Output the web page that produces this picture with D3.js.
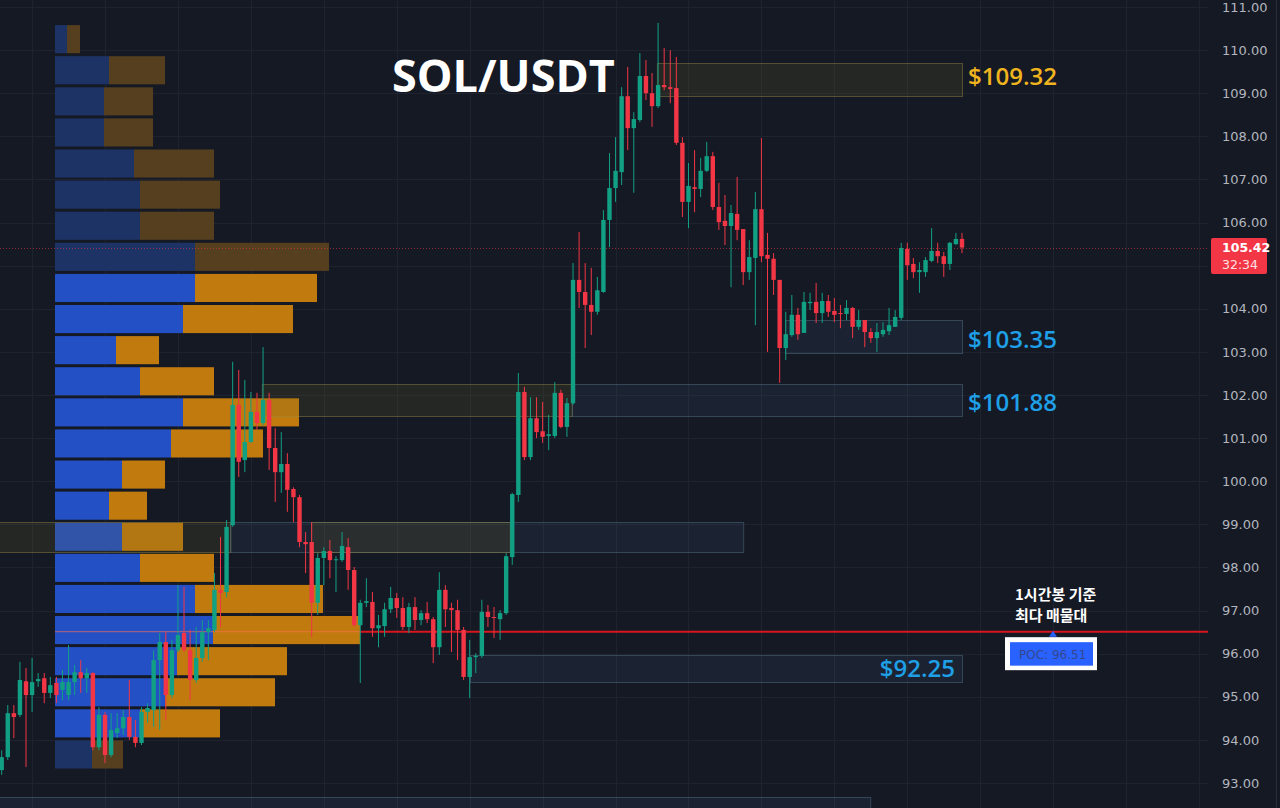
<!DOCTYPE html>
<html><head><meta charset="utf-8">
<script src="https://cdn.jsdelivr.net/npm/d3@7"></script>
<style>html,body{margin:0;padding:0;background:#151924;overflow:hidden}</style>
</head><body><svg id="c" width="1280" height="808"></svg>
<script>
// ---------- DATA ----------
const title = "SOL/USDT";
const priceTicks = d3.range(93, 112, 1);
const lastPrice = 105.42;
const lastPriceTimer = "32:34";
const pocPrice = 96.51;
const pocNote = ["1시간봉 기준", "최다 매물대"];

// [open, high, low, close] for each 1h candle
const ohlc = [
[93.30,93.76,93.19,93.60],[93.60,94.81,93.53,94.62],[94.62,94.81,94.04,94.53],[94.58,95.81,94.53,95.39],
[95.36,95.67,93.37,95.04],[95.04,95.90,94.65,95.34],[95.36,95.55,95.23,95.41],[95.43,95.55,94.85,95.09],
[95.09,95.46,94.97,95.27],[95.32,95.46,94.85,95.04],[95.16,95.62,94.92,95.34],[95.04,96.20,94.92,95.34],
[95.34,95.74,95.04,95.57],[95.57,95.85,95.09,95.43],[95.43,95.67,95.09,95.55],[95.55,95.57,93.76,93.83],
[93.83,94.76,93.76,94.58],[94.58,94.65,93.46,93.65],[93.65,94.62,93.60,94.23],[94.16,94.62,94.04,94.27],
[94.27,94.69,94.11,94.53],[94.53,95.39,94.00,94.07],[94.07,94.46,93.83,93.93],[93.93,94.76,93.88,94.65],
[94.65,94.85,94.39,94.74],[94.69,96.08,94.30,95.85],[95.85,96.48,94.23,96.27],[96.27,96.50,94.46,95.04],
[95.04,96.32,94.97,96.08],[96.08,97.59,96.04,96.43],[96.48,97.55,96.04,96.08],[96.08,96.55,94.92,95.39],
[95.39,96.62,95.32,95.90],[95.90,96.78,95.81,96.50],[96.50,96.78,95.85,96.59],[96.55,97.87,96.50,97.48],
[97.48,98.71,96.62,97.41],[97.43,99.10,97.31,98.94],[98.98,102.77,98.94,101.77],[101.77,102.58,100.10,100.45],
[100.49,102.35,100.21,100.91],[100.91,102.07,100.89,101.61],[101.61,102.05,101.19,101.35],[101.35,103.11,101.30,101.88],
[101.88,102.05,100.26,100.77],[100.77,101.23,99.52,100.21],[100.21,101.14,99.73,100.40],[100.40,100.65,99.29,99.80],
[99.82,99.86,99.05,99.63],[99.63,99.68,98.47,98.59],[98.59,98.82,97.87,98.54],[98.59,99.05,96.39,97.18],
[97.18,98.33,96.90,98.22],[98.22,98.47,97.59,98.38],[98.38,98.64,97.75,98.17],[98.17,98.26,97.43,98.19],
[98.17,98.82,98.13,98.50],[98.47,98.68,97.48,97.94],[97.94,98.01,96.62,96.66],[96.66,97.25,95.32,97.18],
[97.18,97.75,97.08,97.22],[97.20,97.43,96.39,96.59],[96.59,96.90,96.15,96.66],[96.64,97.18,96.39,97.03],
[97.03,97.55,96.94,97.29],[97.29,97.41,96.83,97.06],[97.06,97.31,96.55,96.62],[96.62,97.18,96.48,97.08],
[97.08,97.31,96.55,96.78],[96.78,97.01,96.66,96.94],[96.94,97.20,96.71,96.80],[96.80,96.85,95.78,96.15],
[96.15,97.89,95.97,97.48],[97.48,97.59,96.62,97.03],[97.06,97.18,96.04,97.01],[97.01,97.25,95.85,96.55],
[96.55,96.62,95.39,95.46],[95.46,96.32,94.97,95.92],[95.92,96.01,95.55,95.95],[95.95,97.25,95.90,96.97],
[96.97,97.13,96.62,96.85],[96.85,97.08,96.36,96.83],[96.80,97.01,96.32,96.94],[96.94,98.33,96.90,98.26],
[98.24,99.73,98.06,99.70],[99.68,102.51,99.52,102.07],[102.07,102.19,100.49,100.56],[100.56,101.95,100.49,101.46],
[101.46,101.95,101.00,101.14],[101.16,101.84,100.89,101.03],[101.05,101.54,100.72,101.09],[101.05,102.30,101.00,102.05],
[102.05,102.12,101.23,101.26],[101.26,101.93,101.03,101.81],[101.81,105.06,101.77,104.67],[104.67,105.78,104.02,104.39],
[104.39,105.06,103.09,104.09],[104.09,104.95,103.39,103.93],[103.93,104.74,103.86,104.43],[104.39,106.29,104.37,106.06],
[106.06,107.61,105.43,106.80],[106.80,107.98,106.48,107.20],[107.17,109.14,106.87,108.93],[108.93,109.61,107.68,108.19],
[108.19,108.56,106.69,108.40],[108.38,109.93,108.33,109.40],[109.40,109.77,108.84,109.00],[109.00,109.47,108.22,108.70],
[108.70,110.63,108.66,109.19],[109.19,110.05,109.07,109.14],[109.14,110.00,108.77,109.10],[109.12,109.84,107.80,107.85],
[107.85,107.98,106.13,106.48],[106.48,107.38,105.87,106.85],[106.82,107.68,106.24,106.78],[106.78,107.50,106.59,107.20],
[107.20,107.87,107.17,107.54],[107.54,107.64,106.29,106.36],[106.36,106.92,105.83,106.01],[106.04,106.64,105.48,105.92],
[105.92,106.41,104.50,106.22],[106.20,107.06,105.59,105.83],[105.85,105.85,104.55,104.85],[104.85,105.59,104.67,105.20],
[105.18,106.71,103.62,106.31],[106.31,107.96,105.08,105.22],[105.25,105.76,103.00,105.16],[105.16,105.29,104.32,104.67],
[104.67,104.67,102.28,103.09],[103.09,103.93,102.81,103.41],[103.39,104.32,103.35,103.86],[103.86,104.02,103.28,103.41],
[103.44,104.39,103.44,104.16],[104.13,104.37,103.97,104.16],[104.16,104.60,103.67,103.90],[103.90,104.37,103.67,104.18],
[104.18,104.32,103.81,103.93],[103.95,104.25,103.69,103.86],[103.90,104.09,103.55,103.88],[103.88,104.20,103.74,104.02],
[104.02,104.04,103.32,103.58],[103.58,103.97,103.51,103.74],[103.74,103.74,103.11,103.46],[103.46,103.55,103.21,103.32],
[103.32,103.67,103.00,103.46],[103.41,103.69,103.35,103.51],[103.48,104.02,103.39,103.62],[103.58,103.97,103.58,103.81],
[103.79,105.53,103.74,105.41],[105.39,105.53,104.67,105.01],[105.04,105.18,104.71,104.85],[104.85,105.08,104.37,104.90],
[104.85,105.20,104.74,105.13],[105.11,105.87,105.08,105.34],[105.34,105.53,105.06,105.22],[105.22,105.32,104.74,105.04],
[105.04,105.55,104.90,105.53],[105.50,105.76,105.48,105.62],[105.62,105.76,105.29,105.42]
];

// Volume profile (24 price rows, top to bottom)
const vpTopPrice = 110.58;
const vpRowStep = 0.7214;
const vpBuy  = [12,54,49,49,79,85,85,140,140,128,61,85,128,116,67,54,67,85,140,158,122,110,85,37];
const vpSell = [13,56,49,49,80,80,74,134,122,110,43,74,116,92,43,38,61,74,128,147,110,110,80,31];
const valueAreaRows = [8, 22];

// Zones: price top/bottom, candle-index from/to, kind
const zoneTop    = [109.70, 103.74, 102.25, 102.25, 99.05, 99.05, 99.05, 95.98, 92.67];
const zoneBottom = [108.94, 102.98, 101.51, 101.51, 98.36, 98.36, 98.36, 95.36, 92.10];
const zoneFrom   = [107.8, 128.9, 42.8, 93.8, -1, 37.6, 50.9, 77.05, -1];
const zoneTo     = [158, 158, 93.8, 158, 37.6, 122, 83.6, 158, 142.9];
const zoneKind   = ["olive","blue","olive","blue","olive","blue","olive","blue","blue"];

const labelText  = ["$109.32", "$103.35", "$101.88", "$92.25"];
const labelPrice = [109.40, 103.30, 101.86, 95.67];
const labelColor = ["#F0B41E", "#1E9FE6", "#1E9FE6", "#1E9FE6"];
const labelInside = [false, false, false, true];

// ---------- SCALES ----------
const svg = d3.select("#c");
const W = 1280, H = 808, plotRight = 1208;
const N = ohlc.length;
const x = d3.scaleLinear().domain([0, N - 1]).range([1.7, 962]);
const y = d3.scaleLinear().domain([93, 111]).range([783, 7]);
const vx = d3.scaleLinear().domain([0, d3.max(vpBuy, (b, i) => b + vpSell[i])]).range([55, 360]);

svg.append("rect").attr("width", W).attr("height", H).attr("fill", "#151924");

// grid
const grid = svg.append("g").attr("stroke", "#1f2330").attr("stroke-width", 1);
grid.selectAll("line.h").data(priceTicks).join("line")
  .attr("x1", 0).attr("x2", plotRight)
  .attr("y1", d => Math.round(y(d)) + 0.5).attr("y2", d => Math.round(y(d)) + 0.5);
grid.selectAll("line.v").data(d3.range(5, 200, 12)).join("line")
  .attr("x1", d => Math.round(x(d)) + 0.5).attr("x2", d => Math.round(x(d)) + 0.5)
  .attr("y1", 0).attr("y2", H);

// right edge
svg.append("line").attr("x1", 1276.5).attr("x2", 1276.5).attr("y1", 0).attr("y2", H)
  .attr("stroke", "#2a2e39");

// POC line
svg.append("line").attr("x1", 55).attr("x2", plotRight)
  .attr("y1", y(pocPrice)).attr("y2", y(pocPrice))
  .attr("stroke", "#d7161d").attr("stroke-width", 2);

// volume profile
const vp = svg.append("g");
vpBuy.forEach((b, i) => {
  const top = vpTopPrice - i * vpRowStep;
  const y0 = y(top), h = y(top - vpRowStep) - y0 - 3;
  const inVA = i >= valueAreaRows[0] && i <= valueAreaRows[1];
  vp.append("rect").attr("x", vx(0)).attr("y", y0).attr("width", vx(b) - vx(0)).attr("height", h)
    .attr("fill", inVA ? "#2450C6" : "#1D3366");
  vp.append("rect").attr("x", vx(b)).attr("y", y0).attr("width", vx(b + vpSell[i]) - vx(b)).attr("height", h)
    .attr("fill", inVA ? "#C17A0E" : "#553F1F");
});
svg.append("line").attr("x1", 55).attr("x2", 360)
  .attr("y1", y(pocPrice)).attr("y2", y(pocPrice))
  .attr("stroke", "rgba(255,110,80,0.55)").attr("stroke-width", 1.2);

// current price dotted line
svg.append("line").attr("x1", 0).attr("x2", plotRight)
  .attr("y1", Math.round(y(lastPrice)) + 0.5).attr("y2", Math.round(y(lastPrice)) + 0.5)
  .attr("stroke", "rgba(242,54,69,0.55)").attr("stroke-dasharray", "1 2");

// zones
const zg = svg.append("g");
zoneTop.forEach((t, i) => {
  const olive = zoneKind[i] === "olive";
  zg.append("rect")
    .attr("x", x(zoneFrom[i]) + 0.5).attr("y", Math.round(y(t)) + 0.5)
    .attr("width", x(zoneTo[i]) - x(zoneFrom[i])).attr("height", Math.round(y(zoneBottom[i]) - y(t)))
    .attr("fill", olive ? "rgba(110,105,40,0.18)" : "rgba(70,100,140,0.13)")
    .attr("stroke", olive ? "rgba(150,140,70,0.45)" : "rgba(100,140,160,0.38)")
    .attr("stroke-width", 1);
});

// candles
const up = "#12a085", down = "#f23645", bw = 4.4;
const cg = svg.append("g");
cg.selectAll("line").data(ohlc).join("line")
  .attr("x1", (d, i) => x(i)).attr("x2", (d, i) => x(i))
  .attr("y1", d => y(d[1])).attr("y2", d => y(d[2]))
  .attr("stroke", d => d[3] >= d[0] ? up : down).attr("stroke-width", 1);
cg.selectAll("rect").data(ohlc).join("rect")
  .attr("x", (d, i) => x(i) - bw / 2)
  .attr("y", d => y(Math.max(d[0], d[3])))
  .attr("width", bw)
  .attr("height", d => Math.max(1, Math.abs(y(d[0]) - y(d[3]))))
  .attr("fill", d => d[3] >= d[0] ? up : down);

// zone labels
labelText.forEach((t, i) => {
  svg.append("text")
    .attr("x", labelInside[i] ? x(N - 1) - 7 : x(N - 1) + 6)
    .attr("y", y(labelPrice[i]))
    .attr("text-anchor", labelInside[i] ? "end" : "start")
    .attr("dominant-baseline", "central")
    .attr("font-family", "'Open Sans', sans-serif").attr("font-weight", 600).attr("font-size", 24)
    .attr("fill", labelColor[i]).text(t);
});

// title
svg.append("text").attr("x", 392).attr("y", 92)
  .attr("font-family", "'Open Sans', sans-serif").attr("font-weight", 700).attr("font-size", 45)
  .attr("fill", "#ffffff").text(title);

// y axis (the tick hidden under the last-price badge is not drawn)
const ly = y(lastPrice);
const visibleTicks = priceTicks.filter(t => Math.abs(y(t) - (ly + 8)) > 22);
const ax = svg.append("g").attr("transform", "translate(1222,0)")
  .call(d3.axisRight(y).tickValues(visibleTicks).tickFormat(d3.format(".2f")).tickSize(0).tickPadding(0));
ax.select(".domain").remove();
ax.selectAll("text").attr("font-family", "'DejaVu Sans', sans-serif").attr("font-size", 13)
  .attr("fill", "#b2b5be").attr("text-anchor", "start");

// last price label
svg.append("rect").attr("x", 1211).attr("y", ly - 9.5).attr("width", 56).attr("height", 36)
  .attr("rx", 2).attr("fill", "#f23645");
svg.append("text").attr("x", 1222).attr("y", ly + 4.5)
  .attr("font-family", "'DejaVu Sans', sans-serif").attr("font-size", 12.5).attr("font-weight", 600)
  .attr("fill", "#ffffff").text(d3.format(".2f")(lastPrice));
svg.append("text").attr("x", 1222).attr("y", ly + 21.5)
  .attr("font-family", "'DejaVu Sans', sans-serif").attr("font-size", 12.5)
  .attr("fill", "#ffe0e3").text(lastPriceTimer);

// POC note
pocNote.forEach((t, i) => {
  svg.append("text").attr("x", 1015).attr("y", 600 + i * 21)
    .attr("font-family", "'Noto Sans CJK KR', sans-serif").attr("font-weight", 700).attr("font-size", 15)
    .attr("fill", "#ffffff").text(t);
});

// POC callout
const py = y(pocPrice);
svg.append("path").attr("d", `M1049,${py + 5} L1053,${py - 1} L1057,${py + 5} Z`).attr("fill", "#2962ff");
svg.append("rect").attr("x", 1005).attr("y", py + 5.5).attr("width", 92).attr("height", 33).attr("fill", "#ffffff");
svg.append("rect").attr("x", 1010).attr("y", py + 10.5).attr("width", 83).attr("height", 23.5).attr("fill", "#2962ff");
svg.append("clipPath").attr("id", "pocclip").append("rect")
  .attr("x", 1010).attr("y", py + 10.5).attr("width", 82).attr("height", 23.5);
svg.append("text").attr("x", 1019).attr("y", py + 27.5).attr("clip-path", "url(#pocclip)")
  .attr("font-family", "'DejaVu Sans', sans-serif").attr("font-size", 12)
  .attr("fill", "#34478c").text("POC: " + d3.format(".2f")(pocPrice));
</script></body></html>
